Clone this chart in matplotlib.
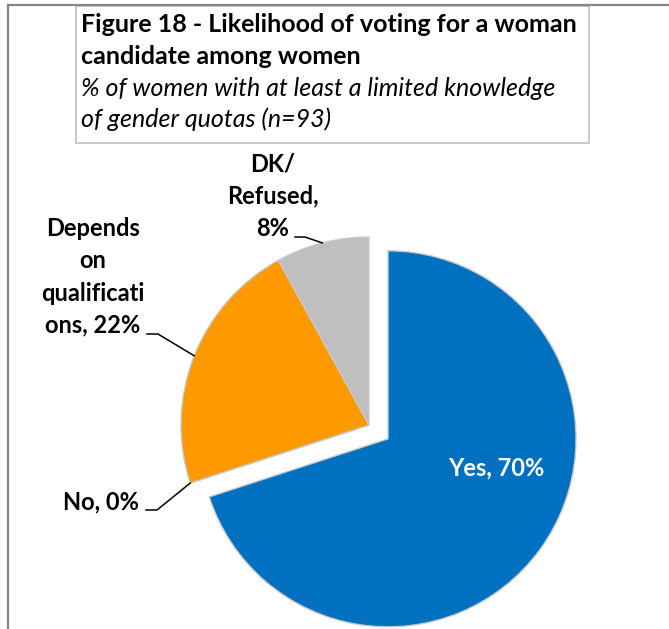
import numpy as np
import matplotlib
matplotlib.use("Agg")
import matplotlib.pyplot as plt
from matplotlib.patches import Rectangle
from matplotlib.lines import Line2D

# ---- data ----
categories = ["Yes", "No", "Depends on qualifications", "DK/ Refused"]
values = [70, 0, 22, 8]
label_texts = ["Yes, 70%", "No, 0%", "Depends\non\nqualificati\nons, 22%", "DK/\nRefused,\n8%"]
colors = ["#0070C0", "#FF9900", "#FF9900", "#BFBFBF"]
title_lines = ["Figure 18 - Likelihood of voting for a woman", "candidate among women"]
subtitle_lines = ["% of women with at least a limited knowledge", "of gender quotas (n=93)"]

W, H = 669, 629
FONT = "Lato"
fig = plt.figure(figsize=(W / 100, H / 100), dpi=100)

def fx(x):
    return x / W

def fy(y):
    return 1 - y / H

# pie axes: center (369,425) px, radius 188 px
R = 188.0
cx, cy = 369.0, 425.0
ax = fig.add_axes([0, 0, 1, 1])

wedges, _ = ax.pie(values, colors=colors, startangle=90, counterclock=False,
                   explode=[0.125, 0, 0, 0], radius=1.0,
                   wedgeprops=dict(edgecolor="#c9c9c9", linewidth=1.0))
ax.set_xlim(-cx / R, (W - cx) / R)
ax.set_ylim(-(H - cy) / R, cy / R)
ax.set_aspect("equal", adjustable="datalim")
ax.axis("off")

# mid angles of each wedge
angles = []
start = 90.0
total = float(sum(values))
for v in values:
    span = 360.0 * v / total
    angles.append(start - span / 2.0)
    start -= span

def edge_pt(ang):
    a = np.deg2rad(ang)
    return np.cos(a), np.sin(a)

def px_to_data(x, y):
    return (x - cx) / R, (cy - y) / R

LS = 17
lab_kw = dict(fontsize=LS, fontweight="bold", family=FONT, color="black",
              ha="center", va="center", linespacing=1.48)

# Yes label (inside, white)
yx, yy = px_to_data(496, 468)
ax.text(yx, yy, label_texts[0], **{**lab_kw, "color": "white"})

# No label
nx, ny = px_to_data(101, 502)
ax.text(nx, ny, label_texts[1], **lab_kw)
tx, ty = edge_pt(90 - 360 * values[0] / total)
p1 = px_to_data(146, 510)
p2 = px_to_data(157, 510)
ax.plot([p1[0], p2[0], tx], [p1[1], p2[1], ty], color="black", lw=1.1)

# Depends label
dx_, dy_ = px_to_data(93, 277)
ax.text(dx_, dy_, label_texts[2], **lab_kw)
tx, ty = edge_pt(angles[2])
p1 = px_to_data(147, 334)
p2 = px_to_data(158, 334)
ax.plot([p1[0], p2[0], tx], [p1[1], p2[1], ty], color="black", lw=1.1)

# DK label
kx, ky = px_to_data(273, 196)
ax.text(kx, ky, label_texts[3], **lab_kw)
tx, ty = edge_pt(angles[3])
p1 = px_to_data(295, 237)
p2 = px_to_data(305, 237)
ax.plot([p1[0], p2[0], tx], [p1[1], p2[1], ty], color="black", lw=1.1)

# outer chart border (left & top)
fig.add_artist(Line2D([fx(7.5), fx(7.5)], [fy(H + 5), fy(5)], color="#868686", lw=1.6))
fig.add_artist(Line2D([fx(7.5), fx(W + 5)], [fy(5), fy(5)], color="#868686", lw=1.6))

# title box
TS = 18
fig.add_artist(Rectangle((fx(76), fy(143)), fx(589) - fx(76), fy(6) - fy(143),
                         transform=fig.transFigure, facecolor="white",
                         edgecolor="#c8c8c8", lw=1.4))
fig.text(fx(81), fy(25), title_lines[0], fontsize=TS, fontweight="bold", family=FONT,
         ha="left", va="center")
fig.text(fx(81), fy(56), title_lines[1], fontsize=TS, fontweight="bold", family=FONT,
         ha="left", va="center")
fig.text(fx(81), fy(88), subtitle_lines[0], fontsize=TS, style="italic", family=FONT,
         ha="left", va="center")
fig.text(fx(81), fy(119), subtitle_lines[1], fontsize=TS, style="italic", family=FONT,
         ha="left", va="center")

fig.savefig("out.png", dpi=100)
